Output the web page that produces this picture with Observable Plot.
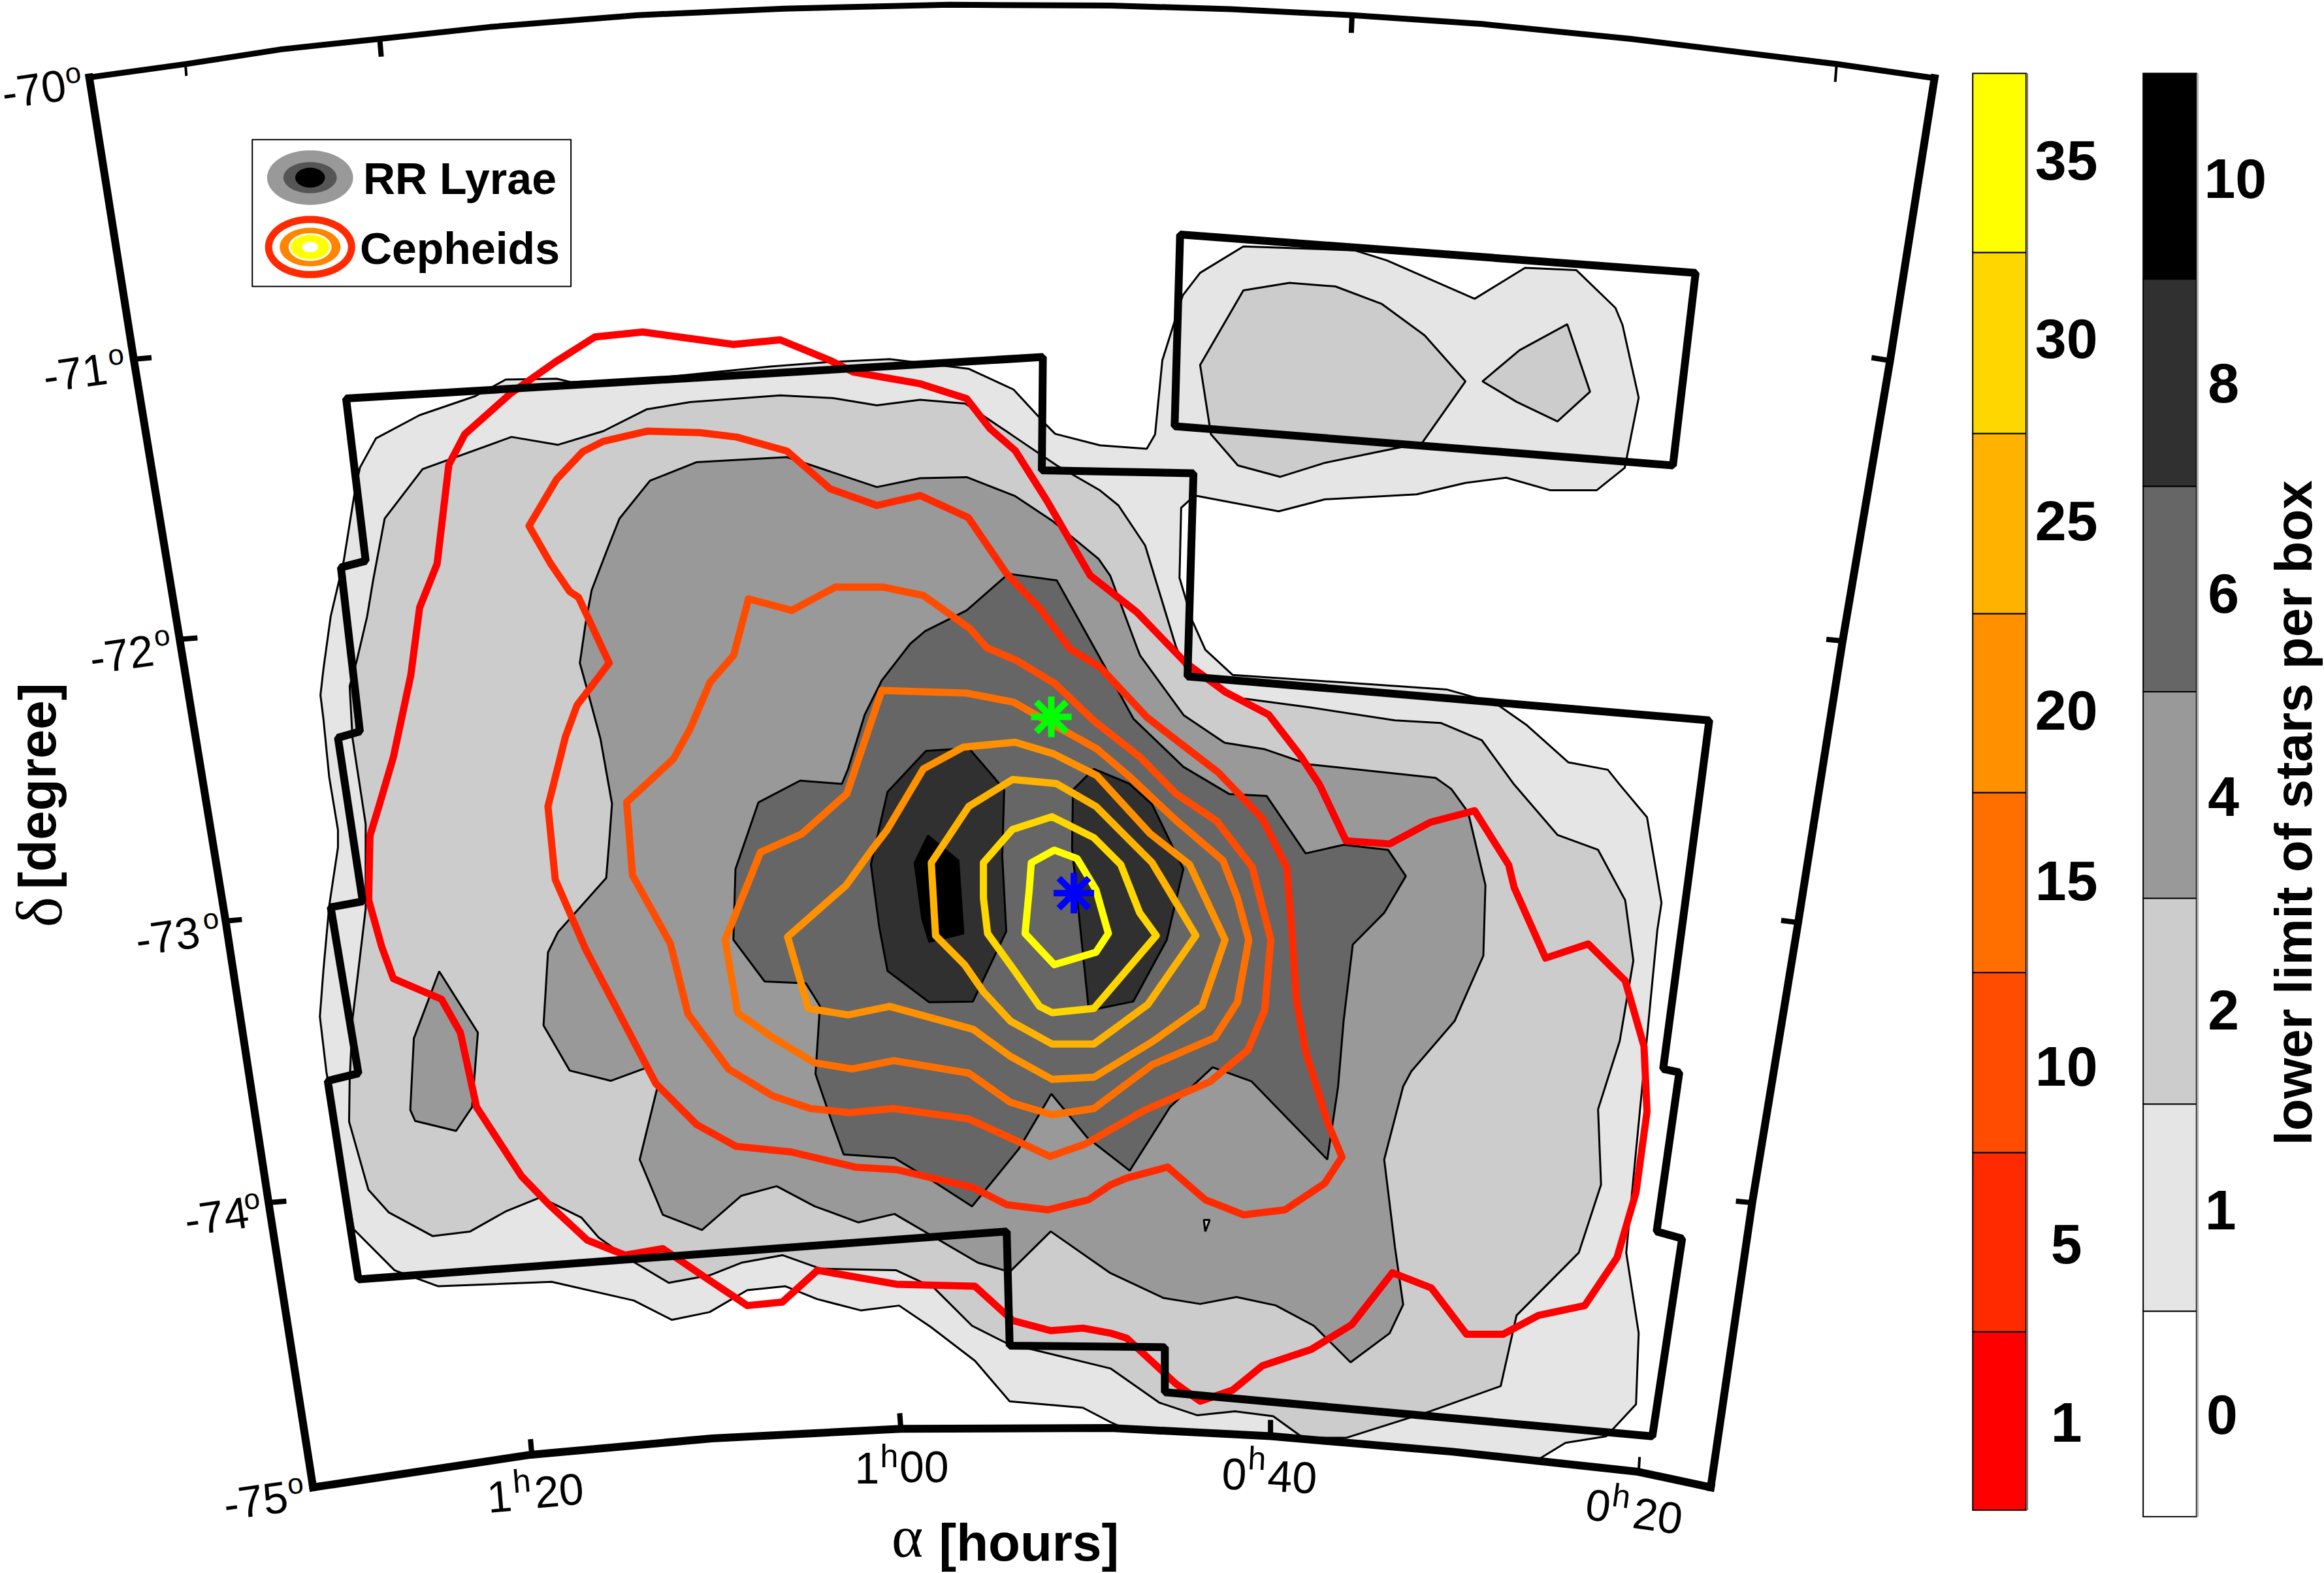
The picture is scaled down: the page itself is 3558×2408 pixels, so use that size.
<!DOCTYPE html>
<html>
<head>
<meta charset="utf-8">
<style>html,body{margin:0;padding:0;background:#fff}svg{display:block}</style>
<script src="https://cdn.jsdelivr.net/npm/d3@7"></script>
<script src="https://cdn.jsdelivr.net/npm/@observablehq/plot@0.6"></script>
</head>
<body>
<script>
const frameTop = [[60,52],[125,43],[190,33],[256,26],[330,18],[430,10],[529,5.6],[640,3],[749,3.5],[830,6],[912,10],[1000,16],[1100,26],[1239,43],[1305,52.5]];
const frameRight = [[1305,52.5],[1275,243],[1243,432],[1213,622],[1182,811],[1154,1003]];
const frameBottom = [[1154,1003],[1105,992.5],[980,979],[857,968.5],[749,963],[608,963.5],[480,970],[358,981],[211,1003]];
const frameLeft = [[211,1003],[181,811],[152,621],[121,431],[90,242],[60,52]];
const frameTicks = [
  [125,44,125.5,51,4],[256,26,257,38,8],[912,10,911.5,22,8],[1239,42,1238,55,4],
  [91,242,102,241,8],[121,431,133,430,8],[152,621,163,620,8],[181,811,193,810,8],
  [1275,243,1262.5,241,8],[1242.5,432,1232,431,8],[1213,622,1201.5,620.6,8],[1182,811,1171,810,8],
  [358.5,980,357.7,970.5,8],[607.6,963.5,606.8,953,8],[857,968.6,857,957.5,8],[1105.4,992.4,1106,982.5,4]
];

const surveyMain = [[233.3,268.6],[703.4,240.6],[702.7,317],[805,319],[801,456],[1153,485.7],[1147.4,528.9],[1121.9,720.8],[1132.8,723.1],[1117.5,830.4],[1134.7,835.2],[1114.6,968.6],[785.7,938.8],[785.7,908.5],[681,907.5],[679,830.4],[241.6,862.7],[220.9,728.8],[241.6,723.8],[222.9,611.7],[244.5,607.8],[227.8,497.4],[242.6,493.2],[229.8,382.5],[246.5,378.1]];
const surveyTop = [[796,158],[1143.8,183.8],[1128.5,313.7],[792.3,287.3]];

const level1 = [[341,255.8],[375.4,255.2],[385,257.5],[440,255],[520,247],[558.8,244],[600,242],[653.2,248.5],[683.6,262.5],[706,286.7],[711.7,292.4],[742,300.2],[773.5,302.5],[779.1,292.8],[784,242.8],[797.8,199],[809.5,183.8],[838.7,166],[913.6,168.6],[935.5,175.4],[994.7,201.3],[1028.7,180.4],[1063.4,182],[1089.7,207.4],[1094.5,219],[1105.4,268],[1096,315.3],[1077,330.5],[1046,330.5],[1016,322],[988.5,325.5],[955.6,333.2],[893.5,336.6],[862.5,344.7],[805.8,334],[796.7,342.3],[795.6,389.5],[804,418],[813,438],[831.4,455],[975.7,464.8],[1008.6,474],[1030,489],[1058,514],[1084.6,519],[1092.6,529],[1111,551],[1120.8,608.7],[1118,627],[1097,844.7],[1105.4,899],[1103.6,947],[1083.5,968.6],[1056,973],[1038,984],[980,979],[857,968],[760,964],[749,959],[730.4,949.3],[681,945],[657.6,917.7],[628,895],[606.4,880.4],[580.8,883.7],[551,876],[529.7,867.4],[504,870],[478.5,884.8],[453,890],[427.4,877],[372,864.4],[295.5,867.4],[266,856.6],[238.5,829],[220,722.8],[215.6,685.5],[218,654],[221.9,610.7],[227.8,571.4],[227.8,559.6],[221.9,524],[218,484.8],[216,468.6],[218,451],[222.9,415.5],[231.7,378],[238.6,334.9],[242.6,315.2],[253.4,295.5],[282.9,279.8],[320.3,267]];
const level2Main = [[344.9,294.5],[376.3,299.8],[406.8,290.6],[436.3,275.8],[465.4,271],[526.2,266.5],[562.1,268.3],[591.4,273.2],[620.6,269.4],[651,272],[681.3,292.4],[712.8,313.7],[742,330.6],[754.4,340.7],[772.4,367.7],[793.3,436.3],[800.3,452],[835,470.5],[884,477],[941,485.7],[971.8,487.4],[999.5,499],[1021.4,529],[1050.6,562.9],[1078,573],[1096.3,607],[1101.8,647.7],[1092.6,702],[1078,748],[1080,798.8],[1065,844.7],[1023,887],[1012.3,934.7],[964.8,951.7],[908,969.6],[879,969.6],[858.8,955],[833,951.7],[807.7,954.4],[782,945.9],[749,922.8],[679,905.8],[655.6,894],[630,868.5],[604.5,856.6],[553.3,855.5],[527.7,846.4],[500,851.5],[478.5,860],[451,865],[425.4,849.8],[403.7,834.5],[392,821],[364.4,807.4],[340.8,817],[317,830.4],[291.6,833.5],[262,817.5],[248.3,802.2],[235.3,756.3],[235.7,728.8],[237.6,687.4],[241.6,654],[246.5,612.7],[246.5,555.6],[237.6,497.6],[235.7,462.7],[240.6,445],[247.5,415.5],[251.4,391.9],[259.3,349.6],[284.9,316.2]];
const level2Lobe = [[838.7,195.6],[869.8,190.6],[900.8,193],[931.9,204.7],[961,226],[988.5,257],[959.3,298.5],[930,304.5],[893.5,312],[863.6,321.4],[835,313.7],[816.8,292.7],[809.5,246]];
const level2Small = [[1057.2,218.5],[1072.6,264],[1050.6,284],[1023,270.8],[1000,257],[1025,236]];
const level4Main = [[469.9,311.5],[530.7,308.1],[591.4,328.3],[620.6,322.3],[652,321.6],[684.7,334.4],[709.4,350.8],[740.9,376.7],[748.8,388],[766.8,436.3],[769,441.9],[798.5,482.3],[826,500.8],[853.3,505.2],[882.6,515.3],[968.4,524.4],[979,532],[990.3,547.6],[1002,596.8],[1000.6,644.4],[981.2,688.5],[952,722.4],[946.5,732.6],[933.7,781.9],[941,841.3],[946.5,879.7],[937.4,899],[911,918.7],[886.2,894],[860.5,880.3],[834,874.6],[809.5,879.3],[784.8,875.3],[749,858.5],[708.7,830.4],[681,857.7],[659.6,851.5],[603.3,818.6],[579,824.3],[549.4,813.4],[523.8,799.9],[500,806.3],[473.4,829.4],[447,819.2],[431.4,781.9],[443.2,733.7],[437.3,719.5],[411.8,728.8],[384.2,721.9],[366.5,691.4],[369.5,642.2],[376.3,628.4],[408.8,592],[410.8,567.4],[412.7,541.9],[404.9,498.1],[397,468.6],[391,447],[395,419.5],[399,397.8],[408.8,372.2],[417.7,349.6],[438.3,324]];
const level4Small = [[296.1,655],[322.2,696.3],[318.3,746.5],[307.5,762.6],[279.9,755.9],[276.6,748.4],[279,700.2]];
const level4Speck = [[812,822.6],[816,822.6],[813,830.4]];
const level6Main = [[680.2,386.8],[712.8,391.3],[745.4,449.8],[764.5,484.6],[798.2,517],[829,535.3],[854.4,536.7],[880.7,575.4],[906.3,569.6],[936.3,573],[948.3,590.7],[933.7,615.5],[912.5,636.9],[906.3,688.5],[902.6,732.6],[895.3,781.9],[844.2,729.2],[817.9,719.7],[789.4,746.2],[762,789.4],[733.5,767.2],[709.1,737.6],[687,775],[655.6,813.5],[630,797],[603.3,780.9],[569,778.5],[561,756.4],[550,724.2],[553,678.3],[543.5,663],[515.7,661.8],[494.6,633.7],[496,586],[511.5,541],[539.6,526.3],[567.8,528.5],[572,518.4],[583.2,481.9],[594.7,458.8],[613.9,434],[624,425.5],[652,411.5]];
const level8Left = [[624.5,506.3],[653.4,504.4],[670.3,524],[677.3,532.5],[676,577.4],[678.7,628],[656.2,675.3],[626.7,675.8],[598.6,654.7],[593,625.2],[587.4,583],[598.6,533.9]];
const level8Right = [[723.7,532.5],[737.8,518.4],[761.6,528.3],[777.1,542.3],[798.2,585.9],[787,633.7],[764.4,675.3],[734.4,681.4],[728,619.6],[723.1,571.8]];
const level10 = [[625.9,563.4],[646.4,580.2],[649.8,629.4],[626.7,635],[622,619.6],[616.9,581.7]];

const ceph1 = [[401.3,227],[433.4,223.7],[494.7,232.1],[526.2,229],[559.9,242.9],[575.6,250.8],[620.6,258.6],[652,268.7],[667.8,289],[684.7,303.6],[706,337.3],[735.3,387.9],[766.8,412.7],[799.6,446.7],[826.3,466.4],[855.8,481.9],[877,509.3],[890,528.9],[908,567],[937.4,569],[964.8,554.4],[994.7,546.6],[1017.7,583.2],[1021.4,598.5],[1042.6,646],[1071.4,636.5],[1096.3,661.3],[1109,705.5],[1111,749.6],[1103.6,804],[1090.8,848],[1069,880.4],[1037.8,887],[1014,899.7],[989.2,899.7],[965.5,868.5],[939.2,858.3],[911.8,893.3],[884.4,910],[851.5,921],[831.4,937.4],[809.5,944.9],[793,933],[760,902.4],[749,899],[730.4,895.6],[708.7,897.3],[683,890.5],[657.6,867.4],[604.5,866],[551.3,856.6],[527.7,878],[504,880.4],[478.5,863.4],[447,842],[421.5,846.4],[395.9,836.2],[370.3,812.4],[351.8,793.3],[321.3,746.5],[310.4,696.3],[297.6,673.7],[265.2,659.9],[257.3,638.3],[248.5,606.8],[249.4,563.5],[255.4,543.8],[265.2,510.4],[277,454.9],[282.9,409.6],[294.7,380.1],[302.6,313.2],[313.4,292.6],[344,265.4],[374.4,244]];
const ceph5 = [[406.8,297.5],[436.3,290.6],[471.8,291.6],[496.9,294.6],[530.7,304],[559.9,329.5],[591.4,340.7],[620.6,334],[653.2,349],[679,386.8],[701.2,410],[721.8,437.4],[742,449.8],[773.5,483.5],[796.8,501.6],[822,521],[851.6,552],[868,585],[871.6,630.8],[874.5,674.9],[880.7,708.9],[895.3,756.4],[905.2,780.2],[893.5,798],[866.8,815.8],[838.7,819.2],[813,809],[787.6,787],[760,794.4],[749,799],[734.3,809],[706.8,815.8],[679.2,812.4],[655.6,800.5],[604.5,788.7],[576.9,787],[533.6,776.8],[496.4,773],[469.8,758.3],[442.3,730.7],[395,640.2],[374.4,593],[369.5,543.8],[381.3,496.6],[389.1,475.5],[410.8,447],[390.1,402.7],[384.2,398.8],[371.4,380.1],[356.7,354.5],[375.4,323],[393,304.4]];
const ceph10 = [[422.6,540.9],[454.2,511.6],[465.4,491.4],[478.9,459.9],[494.7,441.9],[504.8,403.7],[534,411.5],[563.3,395.8],[595.9,395.8],[622.8,401.4],[654.3,423.9],[665.6,436.7],[685.8,445.3],[711.7,461],[737.5,485.7],[769,510.5],[793.3,535.2],[820.7,553.6],[844.6,584.5],[857.2,633.7],[853,681.4],[841.7,708.1],[816.4,729.2],[771.5,748.9],[732.1,771.4],[708.2,779.8],[687.2,770],[653.4,754.5],[602.8,747.5],[573.3,750.3],[546.6,747.5],[521.3,739],[491.4,720.9],[463.9,683.5],[452.1,636.3],[426.5,590]];
const ceph15 = [[594.7,465.5],[652,467.3],[683.6,473.4],[709.4,488],[739.8,504.9],[762.3,524],[793.3,553.2],[824.9,580.2],[834.7,605.6],[842.3,633.7],[834.7,675.8],[819.3,699.7],[777.1,718],[737.8,747.5],[709.6,751.7],[681.5,743.3],[653.4,723.6],[602.8,715.2],[574.7,720.8],[549.4,716.6],[521.3,699.7],[497.4,682.8],[489,633.7],[512.9,574.6],[540.8,562.2],[571.1,535.2]];
const ceph20 = [[531.2,631.7],[570.5,597.1],[588,573],[598,560],[622.8,518.4],[649.8,503.7],[684.7,500.4],[710.5,508.2],[739.8,522.9],[775.7,562],[802.4,583],[826.3,633.7],[810.8,678.6],[777.1,702.5],[737.8,726.4],[709.6,727.8],[681.5,712.3],[656.2,694],[600,678.6],[572,684.3],[545.2,680]];
const ceph25 = [[628.1,581.7],[653.4,543.7],[683,525.5],[712.5,528.3],[739.2,543.7],[777.1,581.7],[806.6,630.8],[774.3,677.2],[737.8,704],[709.6,704],[681.5,688.5],[663.3,668.8],[650.6,650.5],[631,630.8]];
const ceph30 = [[663.3,581.7],[682.9,559.2],[709.6,550.7],[737.8,564.8],[756,583],[768.7,615.4],[779.9,630.8],[737.8,680],[709.6,682.8],[701.2,678.6],[684.4,654.7],[666.1,629.4],[663.3,605.6]];
const ceph35 = [[695.6,581.7],[711.1,573.2],[726.5,578.9],[739.2,599.9],[747.6,629.4],[739.2,642.1],[711.1,650.5],[691.4,629.4],[694.2,599.9]];

const cephColors = ["#ff0000","#ff2a00","#ff4c00","#ff6f00","#ff9000","#ffb300","#ffd700","#ffff00"];
const cephEdges = [1018.6,898.3,777.4,656,534.6,413.9,292.4,170.3,49.5];
const cephLabels = ["1","5","10","15","20","25","30","35"];
const cephLabelY = [960,840,720,595,480,352,229,109];
const greyColors = ["#ffffff","#e5e5e5","#cccccc","#999999","#666666","#303030","#000000"];
const greyEdges = [1023,884.4,744.7,605.9,466.6,328,188.2,49.5];
const greyLabels = ["0","1","2","4","6","8","10"];
const greyLabelY = [955,817,682,538,401,259,121];

const decLabels = ["-70","-71","-72","-73","-74","-75"];
const decX = [22.8,50.6,82,113,146,172.4];
const decY = [60.7,252,442,632,821,1012.8];
const decDegX = [49,78,109,142,169.6,199];
const decDegY = [49.5,239.5,429,620,809,1001];
const raHours = ["1","1","0","0"];
const raMinutes = ["20","00","40","20"];
const raHourX = [336.8,584.8,832.5,1078];
const raHourY = [1010,990.7,994.8,1016];
const raHX = [351.8,599.7,847.9,1093.7];
const raHY = [999.2,982.2,984,1009.4];
const raMinX = [377,623.3,871.6,1118.2];
const raMinY = [1006,990,996.8,1023];
const raRotate = [-5,0,3,8];

const legendBox = [[170,94],[385,94],[385,193],[170,193]];
const legendCx = 209;
const rrY = 119.6, cepY = 166.4;
const rrSwatch = [["#999999",29,18.4],["#555555",18,10.5],["#000000",10,6.7]];
const cepSwatch = [["#ffffff","#ff2a00",27.5,18],["#ff8400","#ff8400",20.5,13],["#ffffff","#ffffff",14.5,9.4],["#ffff00","#ffff00",13,8.2],["#ffffff","#ffffff",5.5,3.5]];
const centreStar = [[724.3,602.2]];
const barStar = [[709.1,483.3]];

const sans = "Liberation Sans";
const xy = {x: d => d[0], y: d => d[1]};
const poly = (pts, fill) => Plot.line(pts, {...xy, curve: "linear-closed", fill, stroke: "#000", strokeWidth: 3, strokeLinejoin: "miter"});
const contour = (pts, stroke) => Plot.line(pts, {...xy, curve: "linear-closed", stroke, strokeWidth: 11, strokeLinejoin: "round"});
const border = (pts, closed) => Plot.line(pts, {...xy, curve: closed ? "linear-closed" : "linear", stroke: "#000", strokeWidth: 12, strokeLinejoin: "miter", strokeLinecap: "square"});
const oval = (rx, ry, cy) => d3.range(72).map(i => [legendCx + rx * Math.cos(i * Math.PI / 36), cy + ry * Math.sin(i * Math.PI / 36)]);
const bands = (edges, colors, x1, x2) => Plot.rect(colors.map((c, i) => ({c, y1: edges[i], y2: edges[i + 1]})), {x1, x2, y1: "y1", y2: "y2", fill: "c", stroke: "#000", strokeWidth: 2});
const idx = n => d3.range(n);

const plot = Plot.plot({
  width: 3558, height: 2408,
  marginTop: 0, marginRight: 0, marginBottom: 0, marginLeft: 0,
  x: {domain: [0, 1568], range: [0, 3558], axis: null},
  y: {domain: [0, 1061], range: [0, 2408], axis: null},
  color: {type: "identity"},
  style: {background: "#fff", overflow: "visible"},
  marks: [
    poly(level1, "#e5e5e5"),
    poly(level2Main, "#cccccc"), poly(level2Lobe, "#cccccc"), poly(level2Small, "#cccccc"),
    poly(level4Main, "#999999"), poly(level4Small, "#999999"), poly(level4Speck, "#cccccc"),
    poly(level6Main, "#666666"),
    poly(level8Left, "#303030"), poly(level8Right, "#303030"),
    poly(level10, "#000000"),
    contour(ceph1, cephColors[0]), contour(ceph5, cephColors[1]), contour(ceph10, cephColors[2]),
    contour(ceph15, cephColors[3]), contour(ceph20, cephColors[4]), contour(ceph25, cephColors[5]),
    contour(ceph30, cephColors[6]), contour(ceph35, cephColors[7]),
    border(surveyMain, true), border(surveyTop, true),
    Plot.line(frameTop, {...xy, stroke: "#000", strokeWidth: 9, strokeLinecap: "square"}),
    Plot.line(frameRight, {...xy, stroke: "#000", strokeWidth: 12, strokeLinecap: "square"}),
    Plot.line(frameBottom, {...xy, stroke: "#000", strokeWidth: 12, strokeLinecap: "square"}),
    Plot.line(frameLeft, {...xy, stroke: "#000", strokeWidth: 12, strokeLinecap: "square"}),
    Plot.link(frameTicks, {x1: d => d[0], y1: d => d[1], x2: d => d[2], y2: d => d[3], stroke: "#000", strokeWidth: d => d[4]}),
    ...[barStar, centreStar].flatMap((s, i) => {
      const c = i ? "#0000ff" : "#00ff00";
      return [["plus", 20], ["times", 21]].map(([symbol, r]) => Plot.dot(s, {...xy, symbol, r, stroke: c, strokeWidth: 10, fill: "none"}));
    }),
    // legend box
    Plot.line(legendBox, {...xy, curve: "linear-closed", stroke: "#000", strokeWidth: 2, fill: "#fff"}),
    ...rrSwatch.map(([f, rx, ry]) => Plot.line(oval(rx, ry, rrY), {...xy, curve: "linear-closed", fill: f, stroke: "none"})),
    Plot.line(oval(28, 18.6, cepY), {...xy, curve: "linear-closed", fill: "none", stroke: "#ff2a00", strokeWidth: 11}),
    ...cepSwatch.slice(1).map(([f, s, rx, ry]) => Plot.line(oval(rx, ry, cepY), {...xy, curve: "linear-closed", fill: f, stroke: "none"})),
    Plot.text(["RR Lyrae", "Cepheids"], {x: [310, 310], y: [121, 168], text: d => d, fontFamily: sans, fontWeight: "bold", fontSize: 68, fill: "#000", textAnchor: "middle", lineAnchor: "middle"}),
    // declination labels
    Plot.text(decLabels, {x: decX, y: decY, text: d => d, rotate: -8, fontFamily: sans, fontSize: 68, fill: "#000", textAnchor: "middle", lineAnchor: "middle"}),
    Plot.text(decLabels, {x: decDegX, y: decDegY, text: () => "o", rotate: -8, fontFamily: sans, fontSize: 44, fill: "#000", textAnchor: "middle", lineAnchor: "middle"}),
    // right ascension labels
    Plot.text(raHours, {x: raHourX, y: raHourY, text: d => d, rotate: (d, i) => raRotate[i], fontFamily: sans, fontSize: 68, fill: "#000", textAnchor: "middle", lineAnchor: "middle"}),
    Plot.text(raHours, {x: raHX, y: raHY, text: () => "h", rotate: (d, i) => raRotate[i], fontFamily: sans, fontSize: 50, fill: "#000", textAnchor: "middle", lineAnchor: "middle"}),
    Plot.text(raMinutes, {x: raMinX, y: raMinY, text: d => d, rotate: (d, i) => raRotate[i], fontFamily: sans, fontSize: 68, fill: "#000", textAnchor: "middle", lineAnchor: "middle"}),
    // axis titles
    Plot.text(["α"], {x: [612], y: [1037], text: d => d, fontFamily: "Liberation Serif", fontSize: 92, fill: "#000", textAnchor: "middle", lineAnchor: "middle"}),
    Plot.text(["[hours]"], {x: [694], y: [1041], text: d => d, fontFamily: sans, fontWeight: "bold", fontSize: 80, fill: "#000", textAnchor: "middle", lineAnchor: "middle"}),
    Plot.text(["δ"], {x: [27], y: [615], text: d => d, rotate: -90, fontFamily: "Liberation Serif", fontSize: 100, fill: "#000", textAnchor: "middle", lineAnchor: "middle"}),
    Plot.text(["[degree]"], {x: [26], y: [530], text: d => d, rotate: -90, fontFamily: sans, fontWeight: "bold", fontSize: 80, fill: "#000", textAnchor: "middle", lineAnchor: "middle"}),
    // colour bars
    bands(cephEdges, cephColors, 1331, 1367),
    bands(greyEdges, greyColors, 1446, 1482),
    Plot.ruleX([1367.5], {y1: 49.5, y2: 1018.6, stroke: "#777", strokeWidth: 3}),
    Plot.ruleX([1482.5], {y1: 49.5, y2: 1023, stroke: "#aaa", strokeWidth: 3}),
    Plot.text(cephLabels, {x: idx(8).map(() => 1394), y: cephLabelY, text: d => d, fontFamily: sans, fontWeight: "bold", fontSize: 86, fill: "#000", textAnchor: "middle", lineAnchor: "middle"}),
    Plot.text(greyLabels, {x: [1499, 1498, 1500, 1500, 1500, 1500, 1508], y: greyLabelY, text: d => d, fontFamily: sans, fontWeight: "bold", fontSize: 86, fill: "#000", textAnchor: "middle", lineAnchor: "middle"}),
    Plot.text(["lower limit of stars per box"], {x: [1548], y: [548], text: d => d, rotate: -90, fontFamily: sans, fontWeight: "bold", fontSize: 80, fill: "#000", textAnchor: "middle", lineAnchor: "middle"})
  ]
});
document.body.appendChild(plot);
</script>
</body>
</html>
